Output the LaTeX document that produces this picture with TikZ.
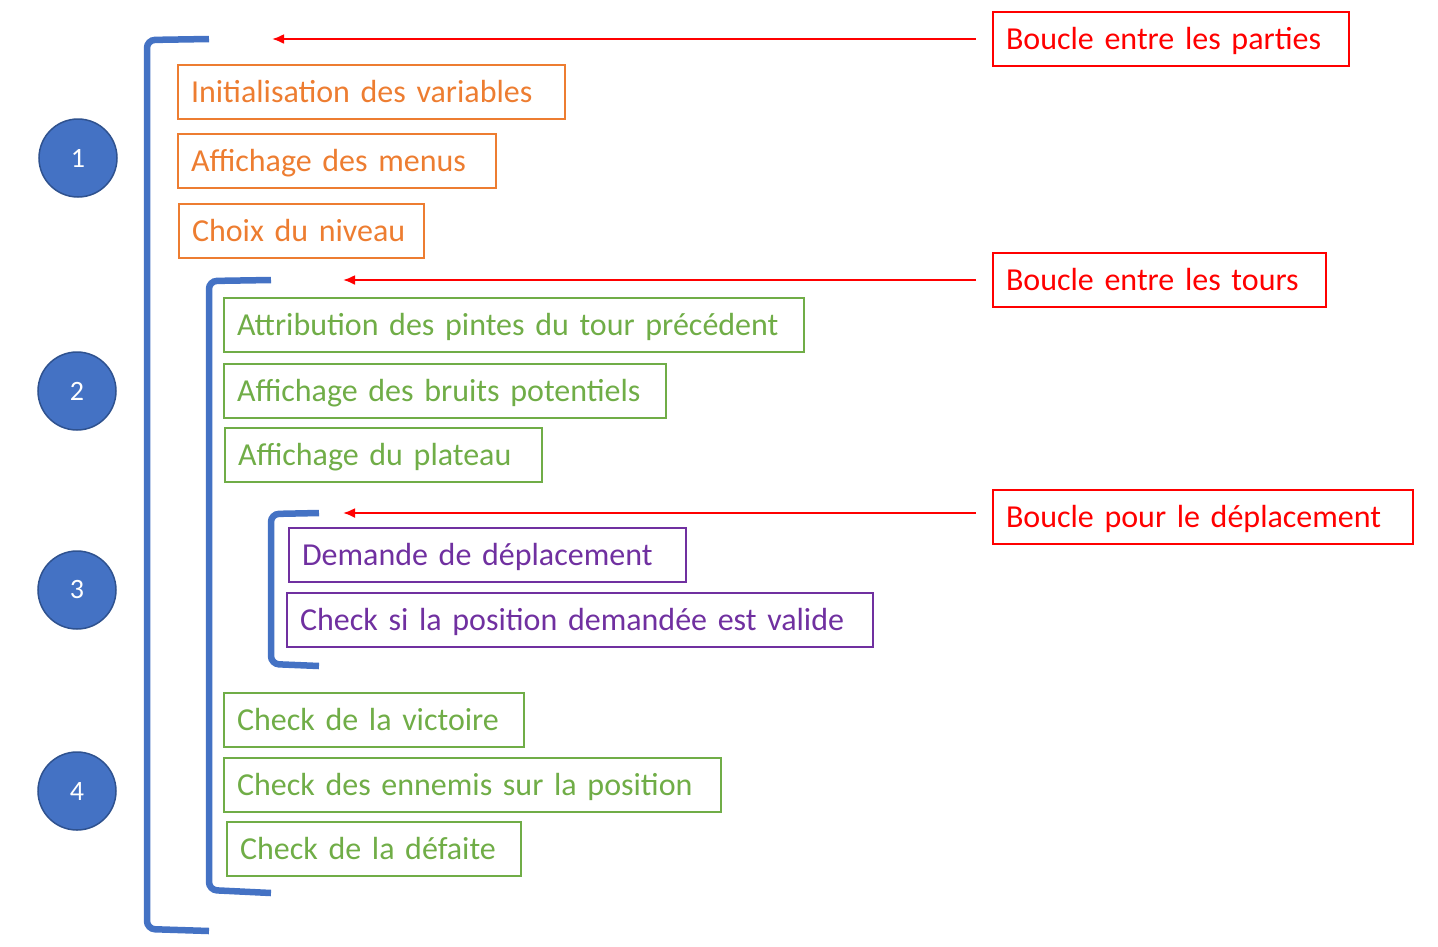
\documentclass[tikz,border=0pt]{standalone}
\usepackage{fontspec}
\setmainfont{Carlito}
\usetikzlibrary{arrows.meta,positioning}

\definecolor{ppBlue}{HTML}{4472C4}
\definecolor{ppDark}{HTML}{2F528F}
\definecolor{ppOrange}{HTML}{ED7D31}
\definecolor{ppGreen}{HTML}{70AD47}
\definecolor{ppPurple}{HTML}{7030A0}
\definecolor{ppRed}{HTML}{FF0000}

\tikzset{
  stepbox/.style={draw, line width=2.2, inner xsep=13, inner ysep=0, outer sep=0,
    minimum height=54, anchor=north west, align=left, text height=25, text depth=5,
    font=\fontsize{32}{38}\selectfont},
  obox/.style={stepbox, draw=ppOrange, text=ppOrange},
  gbox/.style={stepbox, draw=ppGreen, text=ppGreen},
  pbox/.style={stepbox, draw=ppPurple, text=ppPurple},
  rbox/.style={stepbox, draw=ppRed, text=ppRed},
  phase/.style={circle, draw=ppDark, line width=1.5, fill=ppBlue, text=white,
    minimum size=78, inner sep=0, font=\fontsize{28}{32}\selectfont},
  brack/.style={draw=ppBlue, line width=6.5, rounded corners=8},
  loop/.style={draw=ppRed, line width=2.2, -{Latex[length=12, width=10]}}
}

\begin{document}
\begin{tikzpicture}[x=1pt, y=-1pt]
\useasboundingbox (0,0) rectangle (1438,946);

% Phase numbers
\node[phase] (c1) at (78,158) {1};
\node[phase] (c2) at (77,391) {2};
\node[phase] (c3) at (77,590) {3};
\node[phase] (c4) at (77,791) {4};

% Loop brackets
\draw[brack] (209,39) -- (147,40) -- (147,929) -- (209,931);
\draw[brack] (271,280) -- (209,281) -- (209,890) -- (271,893);
\draw[brack] (319,513) -- (271,514) -- (271,664) -- (319,666);

% Start of a game
\node[obox, text width=361] (init) at (178,65) {Initialisation des variables};
\node[obox, text width=292] (menus) at (178,134) {Affichage des menus};
\node[obox, text width=219] (niveau) at (179,204) {Choix du niveau};

% Turn
\node[gbox, text width=554] (pintes) at (224,298) {Attribution des pintes du tour précédent};
\node[gbox, text width=416] (bruits) at (224,364) {Affichage des bruits potentiels};
\node[gbox, text width=291] (plateau) at (225,428) {Affichage du plateau};

% Move
\node[pbox, text width=371] (demande) at (289,528) {Demande de déplacement};
\node[pbox, text width=560] (valide) at (287,593) {Check si la position demandée est valide};

% End of turn
\node[gbox, text width=274] (victoire) at (224,693) {Check de la victoire};
\node[gbox, text width=471] (ennemis) at (224,758) {Check des ennemis sur la position};
\node[gbox, text width=268] (defaite) at (227,822) {Check de la défaite};

% Loop labels
\node[rbox, text width=330] (parties) at (993,12) {Boucle entre les parties};
\node[rbox, text width=307] (tours) at (993,253) {Boucle entre les tours};
\node[rbox, text width=394] (deplacement) at (993,490) {Boucle pour le déplacement};

\coordinate (s1) at (976,39);  \coordinate (a1) at (272,39);
\coordinate (s2) at (976,280); \coordinate (a2) at (343,280);
\coordinate (s3) at (976,513); \coordinate (a3) at (343,513);
\draw[loop] (s1) -- (a1);
\draw[loop] (s2) -- (a2);
\draw[loop] (s3) -- (a3);
\end{tikzpicture}
\end{document}
